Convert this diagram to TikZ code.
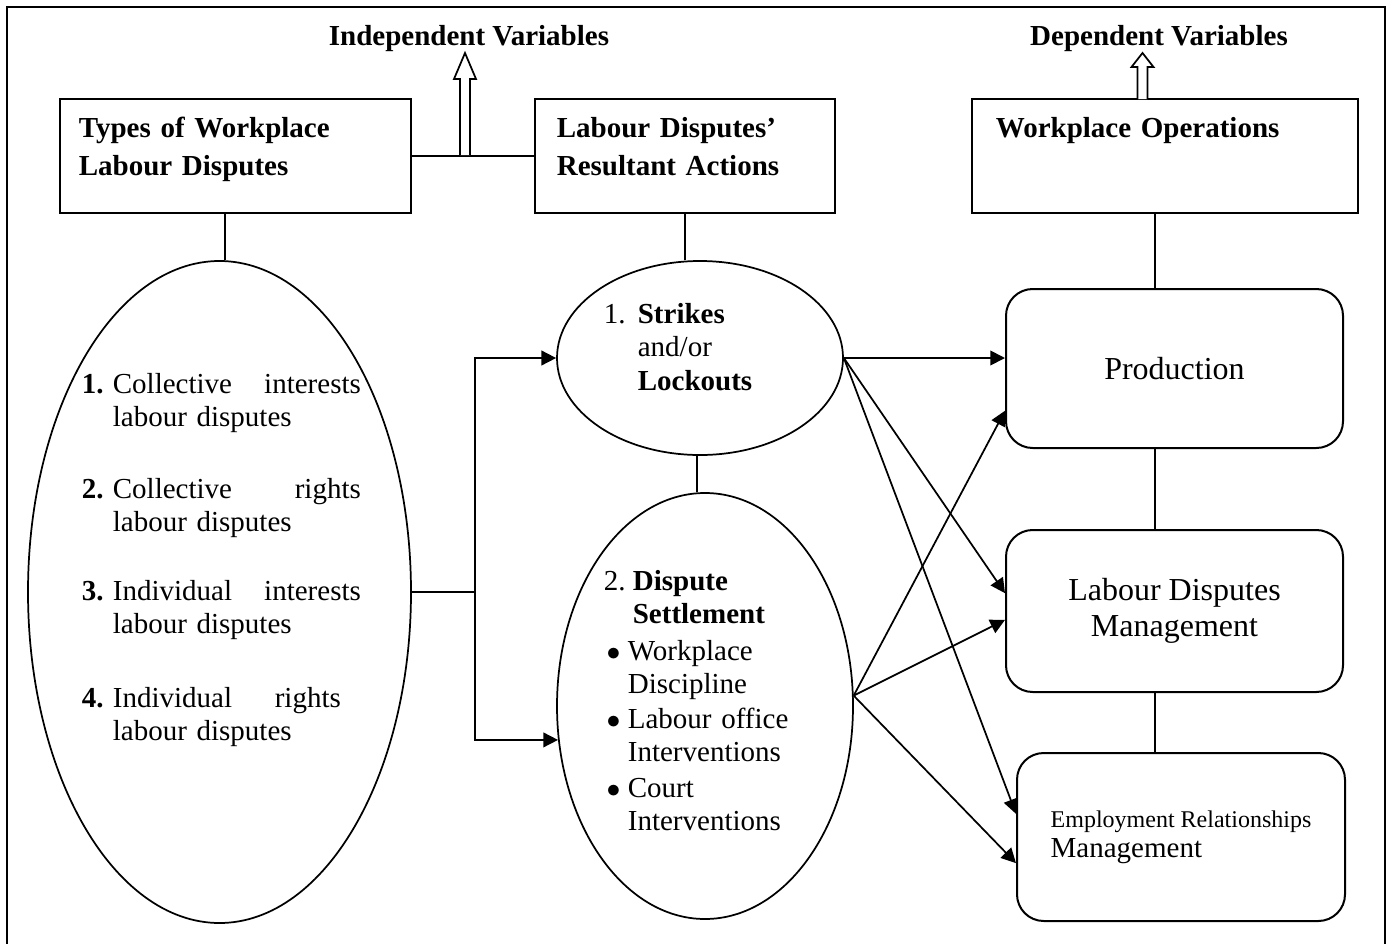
\documentclass[tikz,border=0pt]{standalone}
\usepackage{fontspec}
\setmainfont{Liberation Serif}
\usetikzlibrary{shapes.geometric,arrows.meta}
\tikzset{every picture/.style={line width=1.3pt}}
\newcommand{\hollowup}[4]{%
  \draw[line width=1.3pt,fill=white] ({#1-5},#2) -- ({#1-5},{#3+#4}) -- ({#1-11},{#3+#4}) -- (#1,#3) -- ({#1+11},{#3+#4}) -- ({#1+5},{#3+#4}) -- ({#1+5},#2);}
\newcommand{\listdot}{$\bullet$}

\begin{document}
\begin{tikzpicture}[x=0.75pt,y=0.75pt,yscale=-1,xscale=1,
  headbox/.style={draw,line width=1.5pt,inner sep=0pt},
  opbox/.style={draw,line width=1.5pt,rounded corners=20pt,minimum width=252.75pt,inner sep=0pt,font=\fontsize{24}{27}\selectfont,align=center},
  oval/.style={draw,ellipse,inner sep=0pt},
  headtext/.style={anchor=base west,inner sep=0pt,align=left,text width=250pt,font=\bfseries\fontsize{21.75}{28.5}\selectfont},
  bodytext/.style={anchor=base west,inner sep=0pt,align=left,text width=186pt,font=\fontsize{21.75}{24.75}\selectfont},
  varlabel/.style={anchor=base,inner sep=0pt,font=\bfseries\fontsize{21.75}{26}\selectfont},
  leadto/.style={-{Triangle[length=11pt,width=11pt]}}
]
\useasboundingbox (0,0) rectangle (1389,943);
%Frame
\draw[line width=2.2pt] (7,960) |- (1385,7) -- (1385,960);

%Shape: Rectangle
\node[headbox,minimum width=263.25pt,minimum height=85.5pt] (types) at (235.5,156) {};
\node[headtext] (typestext) at (78,137) {Types of Workplace\\Labour Disputes};
%Shape: Rectangle
\node[headbox,minimum width=225pt,minimum height=85.5pt] (resultant) at (685,156) {};
\node[headtext] (resultanttext) at (556,137) {Labour Disputes’\\Resultant Actions};
%Shape: Rectangle
\node[headbox,minimum width=289.5pt,minimum height=85.5pt] (ops) at (1165,156) {};
\node[headtext] (opstext) at (995,137) {Workplace Operations};

%Variable labels
\node[varlabel] (indep) at (469,45) {Independent Variables};
\node[varlabel] (dep) at (1159,45) {Dependent Variables};

%Shape: Ellipse
\node[oval,minimum width=287.25pt,minimum height=496.5pt] (kinds) at (219.5,592) {};
\node[bodytext] (item1) at (112,393) {\llap{\textbf{1.}\hspace{7pt}}Collective\hfill interests\\labour disputes};
\node[bodytext] (item2) at (112,498) {\llap{\textbf{2.}\hspace{7pt}}Collective\hfill rights\\labour disputes};
\node[bodytext] (item3) at (112,600) {\llap{\textbf{3.}\hspace{7pt}}Individual\hfill interests\\labour disputes};
\node[bodytext,text width=171pt] (item4) at (112,707) {\llap{\textbf{4.}\hspace{7pt}}Individual\hfill rights\\labour disputes};

%Shape: Ellipse
\node[oval,minimum width=214.5pt,minimum height=145.5pt] (strikes) at (700,358) {};
\node[bodytext,text width=160pt,font=\fontsize{21.75}{25.25}\selectfont] (strikestext) at (603,323) {\makebox[25.5pt][l]{1.}\textbf{Strikes}\\\hspace*{25.5pt}and/or\\\hspace*{25.5pt}\textbf{Lockouts}};
%Shape: Ellipse
\node[oval,minimum width=222pt,minimum height=319.5pt] (dispute) at (705,706) {};
\node[bodytext,text width=180pt] (disputetext) at (603,590) {\makebox[21.75pt][l]{2.}\textbf{Dispute}\\\hspace*{21.75pt}\textbf{Settlement}\\[3pt]
  \hspace*{2pt}\makebox[16pt][l]{\listdot}Workplace\\\hspace*{18pt}Discipline\\[1.5pt]
  \hspace*{2pt}\makebox[16pt][l]{\listdot}Labour office\\\hspace*{18pt}Interventions\\[2.25pt]
  \hspace*{2pt}\makebox[16pt][l]{\listdot}Court\\\hspace*{18pt}Interventions};

%Rounded Rect
\node[opbox,minimum height=119.25pt] (prod) at (1174.5,368.5) {Production};
\node[opbox,minimum height=121.5pt] (ldm) at (1174.5,611) {Labour Disputes\\Management};
\node[opbox,minimum width=246pt,minimum height=126pt,align=left,font=\fontsize{21.75}{22.5}\selectfont] (erm) at (1181,837) {{\fontsize{18}{22.5}\selectfont Employment Relationships}\\Management};

%Straight Lines
\draw (types.east) -- (resultant.west);
\draw (225,0 |- types.south) -- (225,0 |- kinds.north);
\draw (685,0 |- resultant.south) -- (685,0 |- strikes.north);
\draw (697,0 |- strikes.south) -- (697,0 |- dispute.north);
\draw (1155,0 |- ops.south) -- (1155,0 |- prod.north);
\draw (1155,0 |- prod.south) -- (1155,0 |- ldm.north);
\draw (1155,0 |- ldm.south) -- (1155,0 |- erm.north);

%Hollow arrows
\hollowup{465}{155}{53}{26}
\hollowup{1142.5}{99}{53}{14}

%Fork to actions
\coordinate (fork) at (475,0 |- kinds.east);
\draw (kinds.east) -- (fork);
\draw[leadto] (fork) |- (strikes.west);
\draw[leadto] (fork) |- (dispute.193);

%Actions to operations
\draw[leadto] (strikes.east) -- (prod.west |- strikes.east);
\draw[leadto] (strikes.east) -- (ldm.174);
\draw[leadto] (strikes.east) -- (erm.172);
\draw[leadto] (dispute.4) -- (prod.194);
\draw[leadto] (dispute.4) -- (ldm.183);
\draw[leadto] (dispute.4) -- (erm.189);
\end{tikzpicture}
\end{document}
